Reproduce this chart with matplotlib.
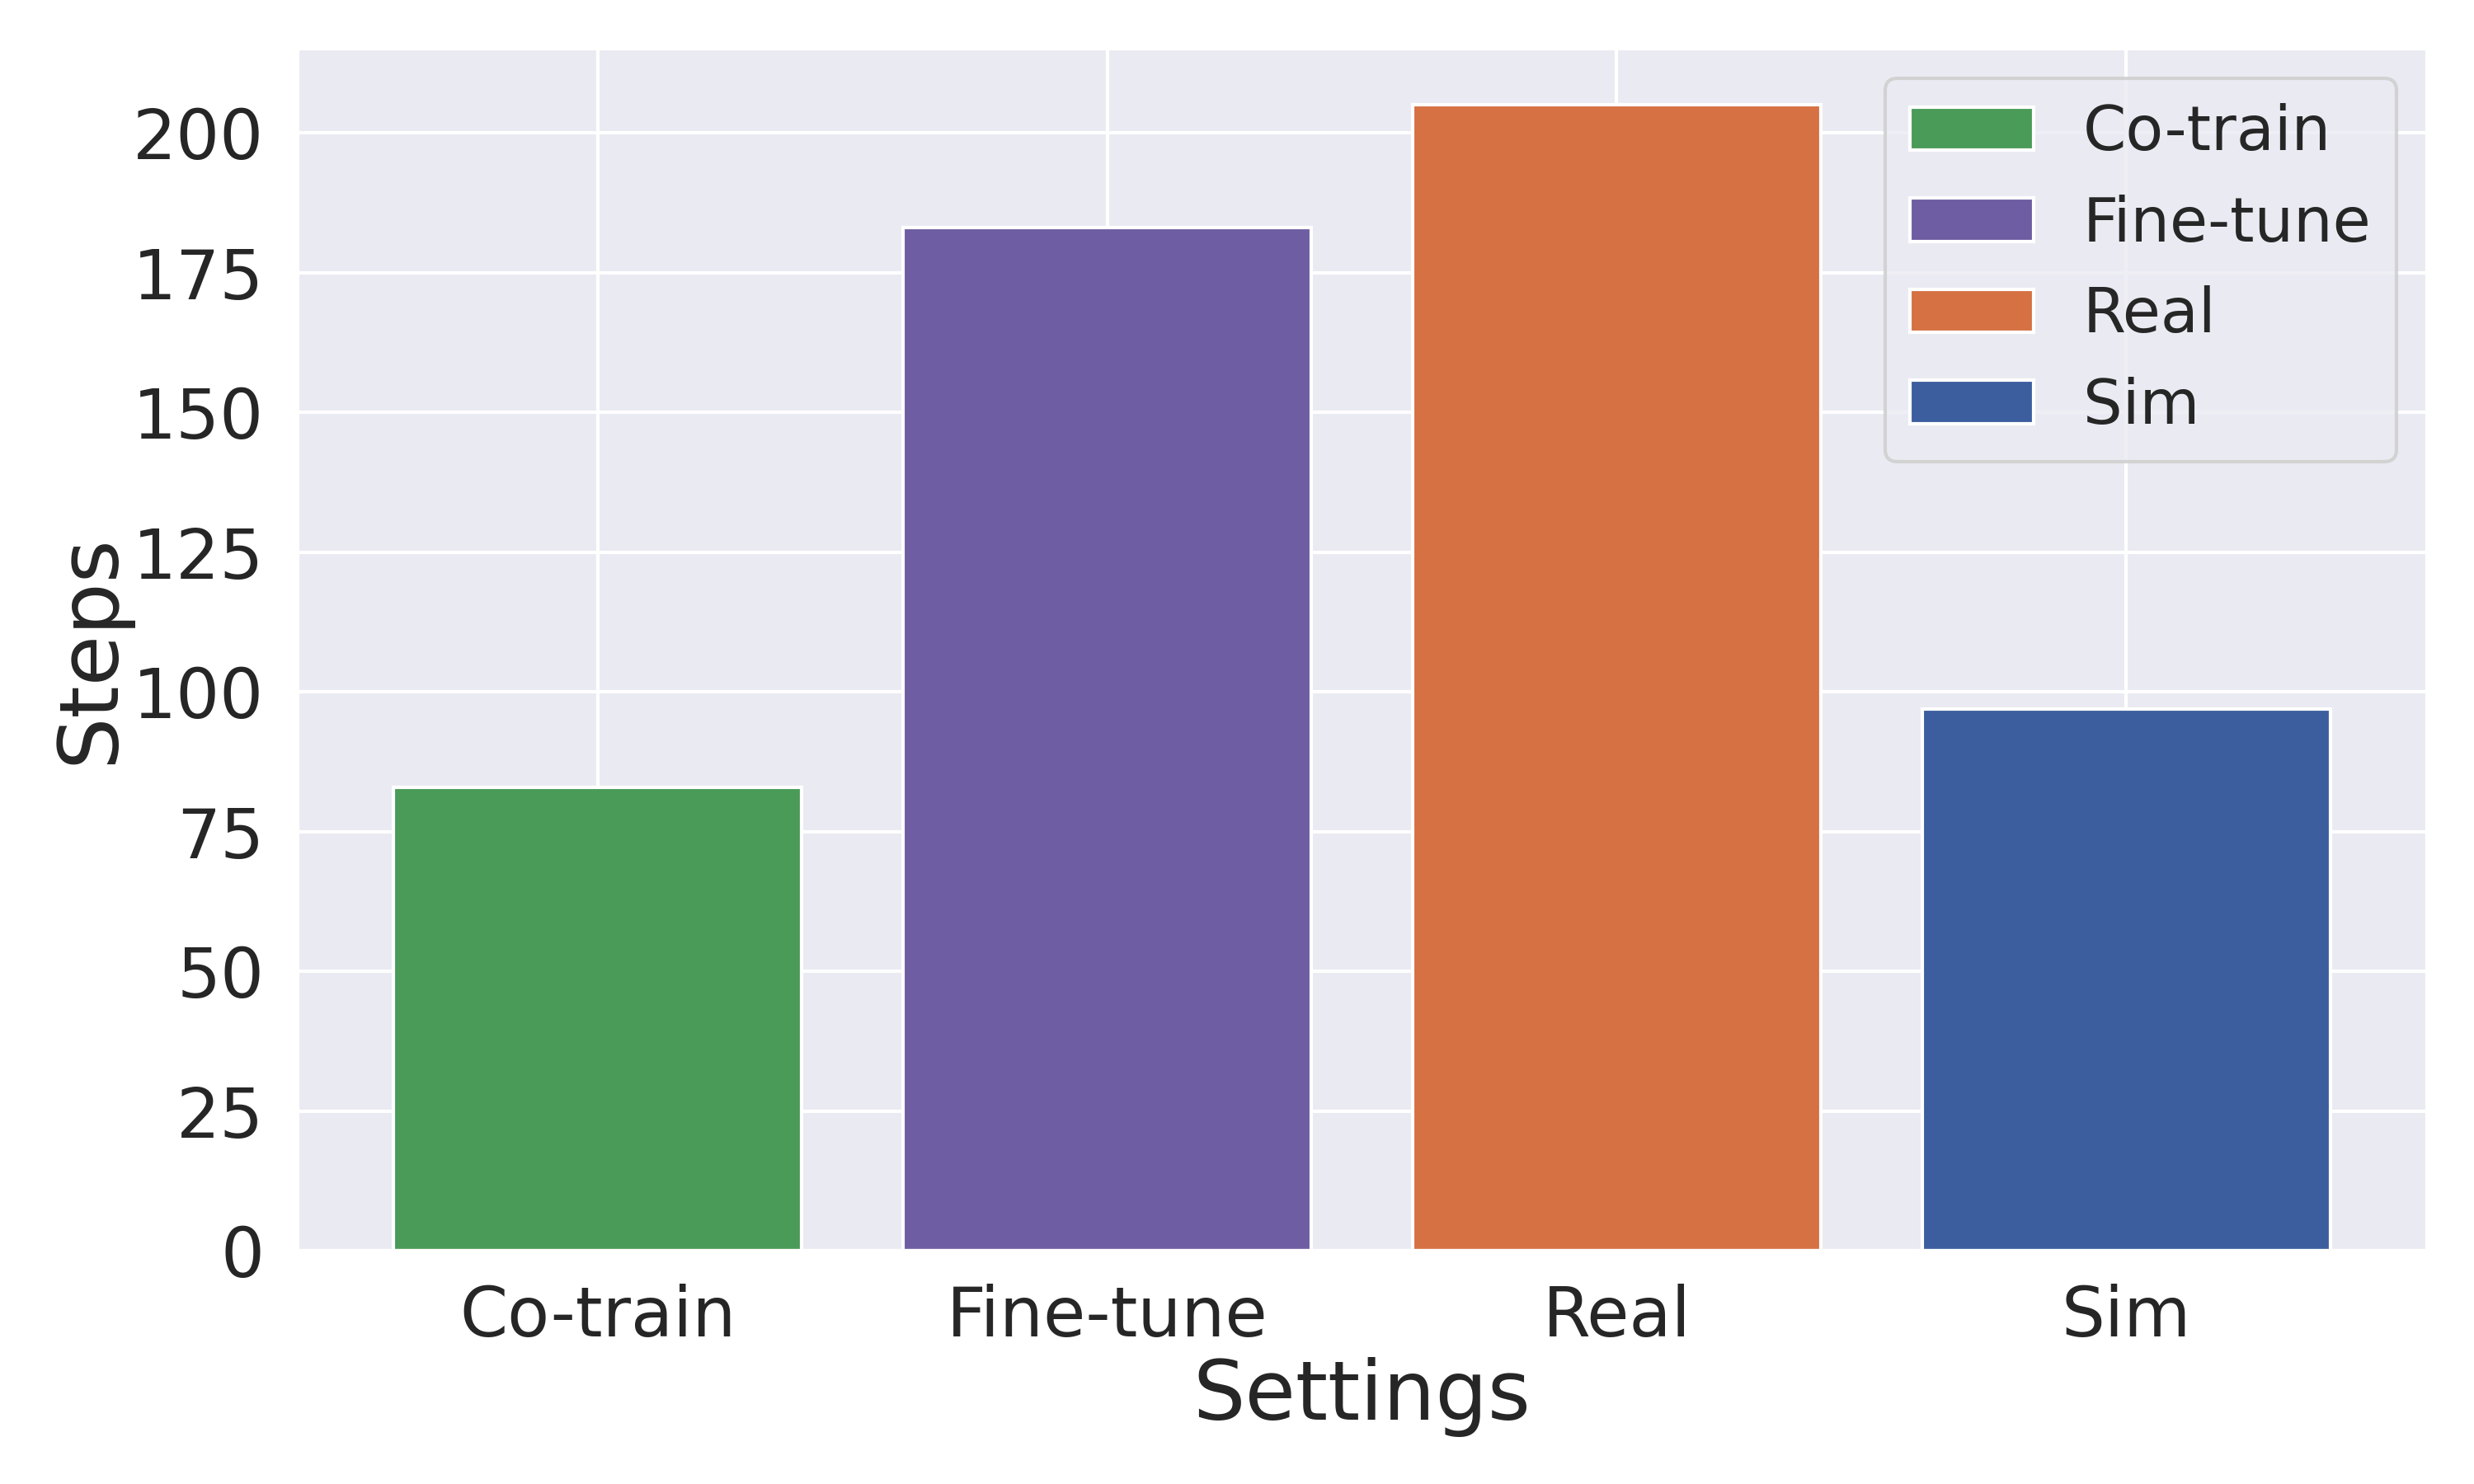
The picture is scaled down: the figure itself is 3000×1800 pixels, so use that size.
import matplotlib
matplotlib.use("Agg")
import matplotlib.pyplot as plt
import seaborn as sns

sns.set_theme(style="darkgrid")

# data
settings = ["Co-train", "Fine-tune", "Real", "Sim"]
steps = [83, 183, 205, 97]
colors = ["#4A9A58", "#6E5DA2", "#D57143", "#3C5E9E"]

fig, ax = plt.subplots(figsize=(10, 6), dpi=300)
fig.subplots_adjust(left=0.12, right=0.981, top=0.968, bottom=0.157)

for name, val, col in zip(settings, steps, colors):
    ax.bar(name, val, width=0.8, color=col, edgecolor="white", linewidth=1, label=name)

ax.set_xlabel("Settings", fontsize=24, labelpad=2)
ax.set_ylabel("Steps", fontsize=24)
ax.yaxis.set_label_coords(-0.078, 0.5)
ax.tick_params(axis="both", labelsize=20)
ax.set_yticks(range(0, 201, 25))
ax.legend(fontsize=18, loc="upper right")

fig.savefig("out.png", dpi=300)
